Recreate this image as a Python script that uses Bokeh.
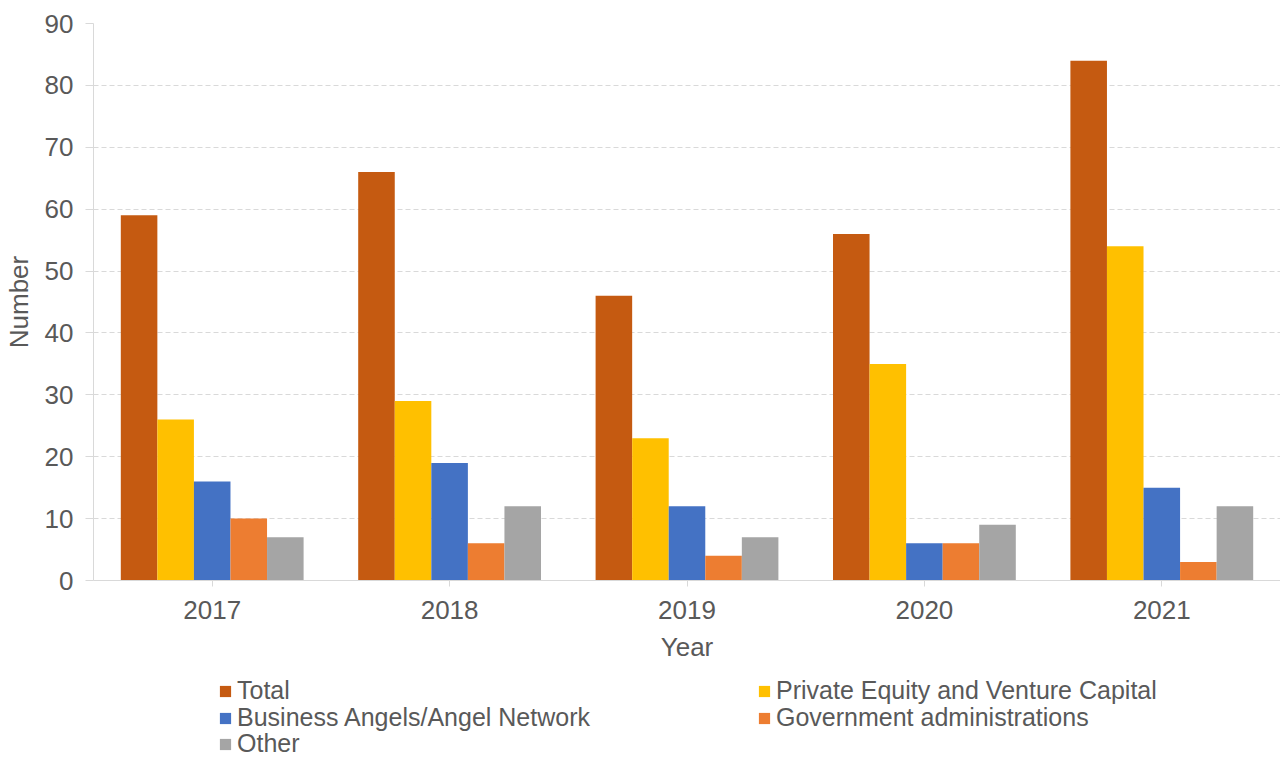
from bokeh.plotting import figure
from bokeh.models import FactorRange, Range1d, Legend, LegendItem, ColumnDataSource
from bokeh.transform import dodge
from bokeh.layouts import column
from bokeh.embed import file_html
from bokeh.resources import INLINE

years = ["2017", "2018", "2019", "2020", "2021"]
series = ["Total", "Private Equity and Venture Capital", "Business Angels/Angel Network",
          "Government administrations", "Other"]
total = [59, 66, 46, 56, 84]
pevc = [26, 29, 23, 35, 54]
angels = [16, 19, 12, 6, 15]
gov = [10, 6, 4, 6, 3]
other = [7, 12, 7, 9, 12]
colors = ["#C55A11", "#FFC000", "#4472C4", "#ED7D31", "#A5A5A5"]
y_ticks = [0, 10, 20, 30, 40, 50, 60, 70, 80, 90]

FONT = "Liberation Sans"
TXT = "#595959"
FS = "26px"
LFS = "25px"

src = ColumnDataSource(dict(year=years, total=total, pevc=pevc, angels=angels, gov=gov, other=other))
cols = ["total", "pevc", "angels", "gov", "other"]

p = figure(x_range=FactorRange(*years, range_padding=0), y_range=Range1d(0, 90),
           width=1280, height=670, output_backend="svg", toolbar_location=None,
           min_border_left=93, min_border_right=0, min_border_top=23, min_border_bottom=90)
p.outline_line_color = None
p.background_fill_color = "white"

bw = 0.154
for i, (c, col) in enumerate(zip(cols, colors)):
    p.vbar(x=dodge("year", (i - 2) * bw, range=p.x_range), top=c, width=bw,
           source=src, fill_color=col, line_color=None)

p.xgrid.grid_line_color = None
p.ygrid.grid_line_color = "#D9D9D9"
p.ygrid.grid_line_dash = "5 3"
p.ygrid.grid_line_width = 1

p.yaxis.ticker = y_ticks
for ax in (p.xaxis[0], p.yaxis[0]):
    ax.axis_line_color = "#D9D9D9"
    ax.major_tick_line_color = "#D9D9D9"
    ax.minor_tick_line_color = None
    ax.major_tick_in = 0
    ax.major_label_text_font = FONT
    ax.major_label_text_font_size = FS
    ax.major_label_text_color = TXT
    ax.axis_label_text_font = FONT
    ax.axis_label_text_font_size = FS
    ax.axis_label_text_font_style = "normal"
    ax.axis_label_text_color = TXT

p.yaxis.axis_label = "Number"
p.yaxis.major_tick_out = 8
p.yaxis.major_label_standoff = 12
p.yaxis.axis_label_standoff = 8
p.xaxis.axis_label = "Year"
p.xaxis.major_tick_out = 6
p.xaxis.major_label_standoff = 14
p.xaxis.axis_label_standoff = 10

# legend strip below the chart (its bars lie outside its visible range)
lp = figure(width=1280, height=88, output_backend="svg", toolbar_location=None,
            x_range=FactorRange(*years, range_padding=0), y_range=Range1d(500, 501),
            min_border_left=93, min_border_right=0, min_border_top=0, min_border_bottom=0,
            x_axis_type=None, y_axis_type=None)
lp.outline_line_color = None
lp.xgrid.grid_line_color = None
lp.ygrid.grid_line_color = None

leg_rends = [lp.vbar(x="year", top=c, width=0.1, source=src, fill_color=col, line_color=None)
             for c, col in zip(cols, colors)]

leg_pos = [(125, 53), (664, 53), (125, 26), (664, 26), (125, 0)]
for r, name, pos in zip(leg_rends, series, leg_pos):
    lg = Legend(items=[LegendItem(label=name, renderers=[r])], location=pos,
                padding=0, margin=0, spacing=0, border_line_color=None,
                background_fill_alpha=0, glyph_width=14, glyph_height=14,
                label_height=27, label_standoff=5, label_text_font=FONT,
                label_text_font_size=LFS, label_text_color=TXT)
    lp.add_layout(lg)

open("out.html", "w").write(file_html(column(p, lp, spacing=0), INLINE))
